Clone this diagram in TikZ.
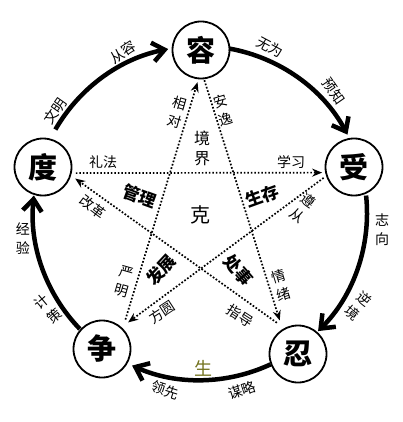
\documentclass[tikz,border=0pt]{standalone}
\usepackage{fontspec}
\setmainfont{Noto Sans CJK SC}
\usetikzlibrary{arrows.meta}
\definecolor{shengse}{rgb}{0.45,0.45,0.12}

\tikzset{
  huan/.style={circle, draw, line width=1.8pt, minimum size=57pt, inner sep=0pt,
    fill=white, font=\fontsize{29}{29}\selectfont\bfseries},
  sheng/.style={line width=4.5pt, -{Straight Barb[length=12pt,width=19pt]}},
  ke/.style={line width=1.7pt, dash pattern=on 1.7pt off 1.8pt,
    -{Stealth[length=10pt,width=8pt]}},
  zi/.style={font=\fontsize{14}{19}\selectfont, inner sep=0pt, align=center},
  cu/.style={font=\fontsize{17}{20}\selectfont\bfseries, inner sep=0pt},
}

\begin{document}
\begin{tikzpicture}[x=1pt, y=1pt]
  \useasboundingbox (0,0) rectangle (402,-422);
  \coordinate (o) at (200,-213);

  % five circles
  \node[huan] (rong)  at (201,-50)  {容};
  \node[huan] (shou)  at (354,-167) {受};
  \node[huan] (ren)   at (298,-354) {忍};
  \node[huan] (zheng) at (102,-349) {争};
  \node[huan] (du)    at (43,-167)  {度};

  % outer ring, clockwise
  \foreach \s/\e in {150/101, 80/28, 6/-45, -65/-114, 224/174}
    \draw[sheng] ([shift={(\s:167)}]o) arc[start angle=\s, end angle=\e, radius=167];

  % star
  \draw[ke, shorten <=4pt, shorten >=3pt] (du.-12) -- (shou.191);
  \draw[ke, shorten <=1pt, shorten >=9pt] (rong.-84) -- (ren.122);
  \draw[ke, shorten <=3pt, shorten >=8pt] (shou.198) -- (zheng.48);
  \draw[ke, shorten <=9pt, shorten >=5pt] (ren.118) -- (du.-17);
  \draw[ke, shorten <=9pt, shorten >=3pt] (zheng.45) -- (rong.-95);

  % ring labels
  \foreach \x/\y/\r/\t [count=\i] in {55/-111/55/文明, 123/-52/33/从容,
      270/-47/-28/无为, 334/-91/-55/预知, 242/-390/18/谋略, 165/-390/-18/领先,
      382/-230/0/志\\向, 358/-306/-40/逆\\境, 48/-309/40/计\\策, 23/-239/0/经\\验}
    \node[zi, rotate=\r] (wai\i) at (\x,\y) {\t};

  % star labels
  \foreach \x/\y/\r/\t [count=\i] in {103/-162/0/礼法, 291/-162/0/学习,
      93/-207/-37/改革, 240/-316/-33/指导, 162/-312/33/方圆,
      177/-112/-16/相\\对, 223/-110/17/安\\逸, 124/-282/-16/严\\明,
      281/-285/17/情\\绪, 303/-208/-37/遵\\从}
    \node[zi, rotate=\r] (nei\i) at (\x,\y) {\t};
  \foreach \x/\y/\r/\t [count=\i] in {140/-196/-20/管理, 262/-196/20/生存,
      161/-270/47/发展, 238/-270/-49/处事}
    \node[cu, rotate=\r] (cu\i) at (\x,\y) {\t};

  \node[zi, font=\fontsize{16}{20}\selectfont] (jingjie) at (202,-148) {境\\界};
  \node[zi, font=\fontsize{20}{20}\selectfont] (ke) at (200,-215) {克};
  \node[zi, font=\fontsize{18}{20}\selectfont, text=shengse] (sheng) at (203,-368) {生};
\end{tikzpicture}
\end{document}
